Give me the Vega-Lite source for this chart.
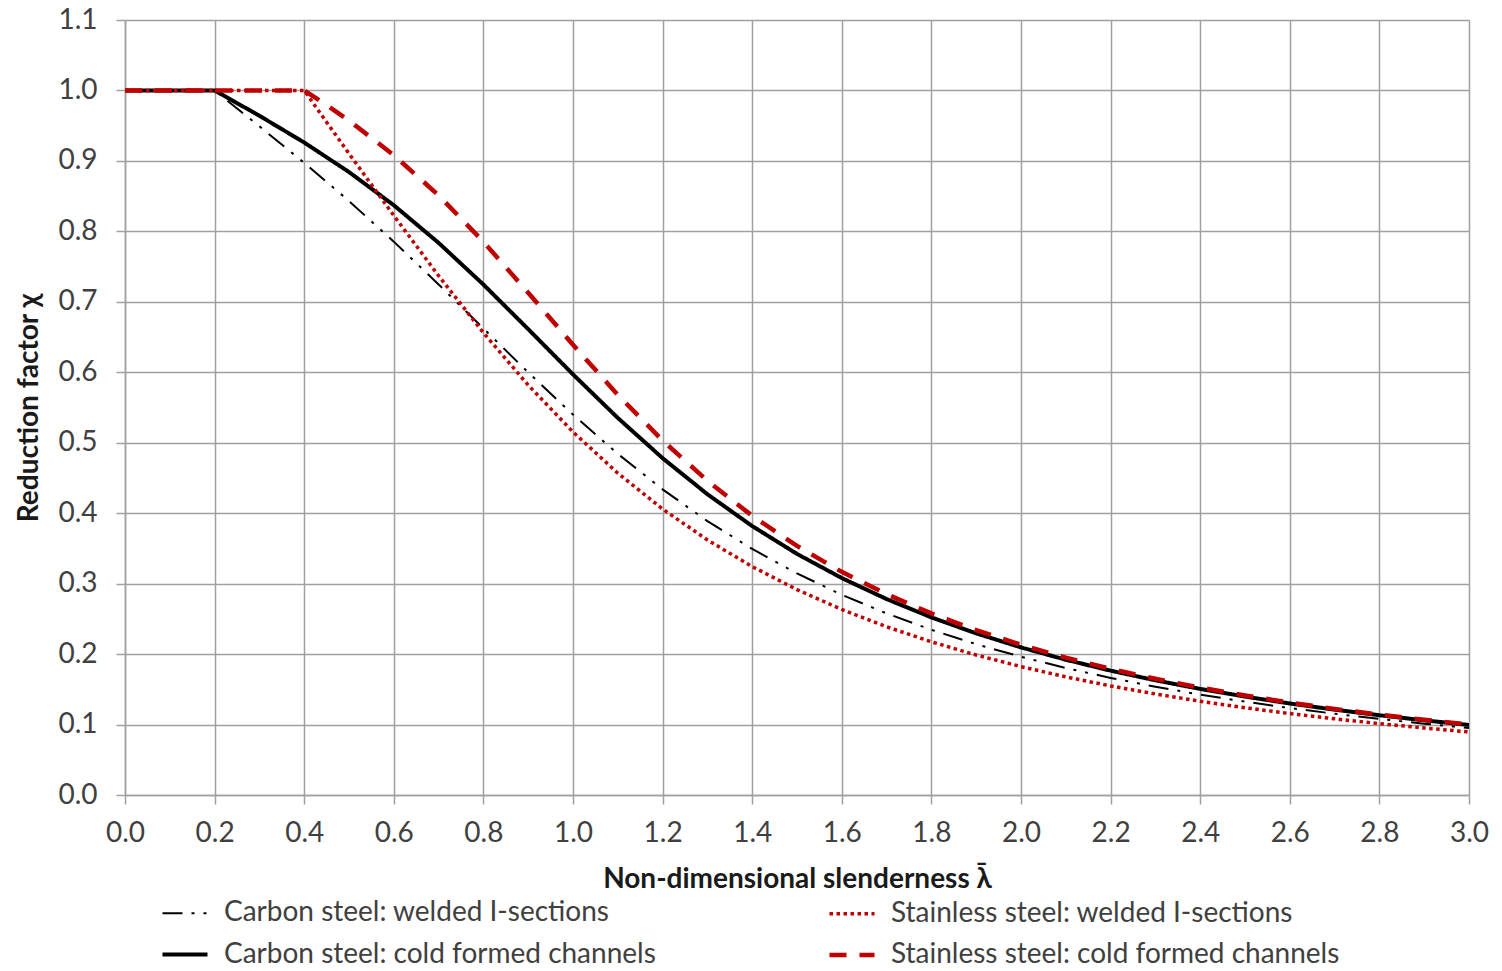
{
  "$schema": "https://vega.github.io/schema/vega-lite/v6.json",
  "autosize": "none",
  "width": 1344,
  "height": 775,
  "padding": {"left": 125, "top": 20, "right": 33, "bottom": 176},
  "background": "white",
  "config": {
    "view": {"stroke": null},
    "axis": {
      "labelFont": "Lato", "labelFontSize": 28, "labelColor": "#404040",
      "titleFont": "Lato", "titleFontSize": 28, "titleFontWeight": "bold", "titleColor": "#1a1a1a",
      "gridColor": "#a0a0a0", "gridWidth": 1.5, "domainColor": "#a0a0a0", "domainWidth": 1.5,
      "tickColor": "#a0a0a0", "tickWidth": 1.5, "tickSize": 9
    }
  },
  "data": {"values": [
    {"series": "Carbon steel: welded I-sections", "x": 0.0, "y": 1.0},
    {"series": "Carbon steel: welded I-sections", "x": 0.1, "y": 1.0},
    {"series": "Carbon steel: welded I-sections", "x": 0.2, "y": 1.0},
    {"series": "Carbon steel: welded I-sections", "x": 0.3, "y": 0.9491},
    {"series": "Carbon steel: welded I-sections", "x": 0.4, "y": 0.8973},
    {"series": "Carbon steel: welded I-sections", "x": 0.5, "y": 0.8430},
    {"series": "Carbon steel: welded I-sections", "x": 0.6, "y": 0.7854},
    {"series": "Carbon steel: welded I-sections", "x": 0.7, "y": 0.7247},
    {"series": "Carbon steel: welded I-sections", "x": 0.8, "y": 0.6622},
    {"series": "Carbon steel: welded I-sections", "x": 0.9, "y": 0.5998},
    {"series": "Carbon steel: welded I-sections", "x": 1.0, "y": 0.5399},
    {"series": "Carbon steel: welded I-sections", "x": 1.1, "y": 0.4842},
    {"series": "Carbon steel: welded I-sections", "x": 1.2, "y": 0.4338},
    {"series": "Carbon steel: welded I-sections", "x": 1.3, "y": 0.3888},
    {"series": "Carbon steel: welded I-sections", "x": 1.4, "y": 0.3492},
    {"series": "Carbon steel: welded I-sections", "x": 1.5, "y": 0.3145},
    {"series": "Carbon steel: welded I-sections", "x": 1.6, "y": 0.2842},
    {"series": "Carbon steel: welded I-sections", "x": 1.7, "y": 0.2577},
    {"series": "Carbon steel: welded I-sections", "x": 1.8, "y": 0.2345},
    {"series": "Carbon steel: welded I-sections", "x": 1.9, "y": 0.2141},
    {"series": "Carbon steel: welded I-sections", "x": 2.0, "y": 0.1962},
    {"series": "Carbon steel: welded I-sections", "x": 2.1, "y": 0.1803},
    {"series": "Carbon steel: welded I-sections", "x": 2.2, "y": 0.1662},
    {"series": "Carbon steel: welded I-sections", "x": 2.3, "y": 0.1537},
    {"series": "Carbon steel: welded I-sections", "x": 2.4, "y": 0.1425},
    {"series": "Carbon steel: welded I-sections", "x": 2.5, "y": 0.1325},
    {"series": "Carbon steel: welded I-sections", "x": 2.6, "y": 0.1234},
    {"series": "Carbon steel: welded I-sections", "x": 2.7, "y": 0.1153},
    {"series": "Carbon steel: welded I-sections", "x": 2.8, "y": 0.1079},
    {"series": "Carbon steel: welded I-sections", "x": 2.9, "y": 0.1012},
    {"series": "Carbon steel: welded I-sections", "x": 3.0, "y": 0.0951},
    {"series": "Carbon steel: cold formed channels", "x": 0.0, "y": 1.0},
    {"series": "Carbon steel: cold formed channels", "x": 0.1, "y": 1.0},
    {"series": "Carbon steel: cold formed channels", "x": 0.2, "y": 1.0},
    {"series": "Carbon steel: cold formed channels", "x": 0.3, "y": 0.9641},
    {"series": "Carbon steel: cold formed channels", "x": 0.4, "y": 0.9261},
    {"series": "Carbon steel: cold formed channels", "x": 0.5, "y": 0.8842},
    {"series": "Carbon steel: cold formed channels", "x": 0.6, "y": 0.8371},
    {"series": "Carbon steel: cold formed channels", "x": 0.7, "y": 0.7837},
    {"series": "Carbon steel: cold formed channels", "x": 0.8, "y": 0.7245},
    {"series": "Carbon steel: cold formed channels", "x": 0.9, "y": 0.6612},
    {"series": "Carbon steel: cold formed channels", "x": 1.0, "y": 0.5970},
    {"series": "Carbon steel: cold formed channels", "x": 1.1, "y": 0.5352},
    {"series": "Carbon steel: cold formed channels", "x": 1.2, "y": 0.4781},
    {"series": "Carbon steel: cold formed channels", "x": 1.3, "y": 0.4269},
    {"series": "Carbon steel: cold formed channels", "x": 1.4, "y": 0.3817},
    {"series": "Carbon steel: cold formed channels", "x": 1.5, "y": 0.3422},
    {"series": "Carbon steel: cold formed channels", "x": 1.6, "y": 0.3079},
    {"series": "Carbon steel: cold formed channels", "x": 1.7, "y": 0.2781},
    {"series": "Carbon steel: cold formed channels", "x": 1.8, "y": 0.2521},
    {"series": "Carbon steel: cold formed channels", "x": 1.9, "y": 0.2294},
    {"series": "Carbon steel: cold formed channels", "x": 2.0, "y": 0.2095},
    {"series": "Carbon steel: cold formed channels", "x": 2.1, "y": 0.1920},
    {"series": "Carbon steel: cold formed channels", "x": 2.2, "y": 0.1765},
    {"series": "Carbon steel: cold formed channels", "x": 2.3, "y": 0.1628},
    {"series": "Carbon steel: cold formed channels", "x": 2.4, "y": 0.1506},
    {"series": "Carbon steel: cold formed channels", "x": 2.5, "y": 0.1397},
    {"series": "Carbon steel: cold formed channels", "x": 2.6, "y": 0.1299},
    {"series": "Carbon steel: cold formed channels", "x": 2.7, "y": 0.1211},
    {"series": "Carbon steel: cold formed channels", "x": 2.8, "y": 0.1132},
    {"series": "Carbon steel: cold formed channels", "x": 2.9, "y": 0.1060},
    {"series": "Carbon steel: cold formed channels", "x": 3.0, "y": 0.0994},
    {"series": "Stainless steel: welded I-sections", "x": 0.0, "y": 1.0},
    {"series": "Stainless steel: welded I-sections", "x": 0.1, "y": 1.0},
    {"series": "Stainless steel: welded I-sections", "x": 0.2, "y": 1.0},
    {"series": "Stainless steel: welded I-sections", "x": 0.3, "y": 1.0},
    {"series": "Stainless steel: welded I-sections", "x": 0.4, "y": 1.0},
    {"series": "Stainless steel: welded I-sections", "x": 0.45, "y": 0.9550},
    {"series": "Stainless steel: welded I-sections", "x": 0.5, "y": 0.9104},
    {"series": "Stainless steel: welded I-sections", "x": 0.6, "y": 0.8224},
    {"series": "Stainless steel: welded I-sections", "x": 0.7, "y": 0.7370},
    {"series": "Stainless steel: welded I-sections", "x": 0.8, "y": 0.6561},
    {"series": "Stainless steel: welded I-sections", "x": 0.9, "y": 0.5818},
    {"series": "Stainless steel: welded I-sections", "x": 1.0, "y": 0.5153},
    {"series": "Stainless steel: welded I-sections", "x": 1.1, "y": 0.4568},
    {"series": "Stainless steel: welded I-sections", "x": 1.2, "y": 0.4059},
    {"series": "Stainless steel: welded I-sections", "x": 1.3, "y": 0.3620},
    {"series": "Stainless steel: welded I-sections", "x": 1.4, "y": 0.3242},
    {"series": "Stainless steel: welded I-sections", "x": 1.5, "y": 0.2915},
    {"series": "Stainless steel: welded I-sections", "x": 1.6, "y": 0.2633},
    {"series": "Stainless steel: welded I-sections", "x": 1.7, "y": 0.2388},
    {"series": "Stainless steel: welded I-sections", "x": 1.8, "y": 0.2174},
    {"series": "Stainless steel: welded I-sections", "x": 1.9, "y": 0.1987},
    {"series": "Stainless steel: welded I-sections", "x": 2.0, "y": 0.1822},
    {"series": "Stainless steel: welded I-sections", "x": 2.1, "y": 0.1677},
    {"series": "Stainless steel: welded I-sections", "x": 2.2, "y": 0.1548},
    {"series": "Stainless steel: welded I-sections", "x": 2.3, "y": 0.1434},
    {"series": "Stainless steel: welded I-sections", "x": 2.4, "y": 0.1331},
    {"series": "Stainless steel: welded I-sections", "x": 2.5, "y": 0.1239},
    {"series": "Stainless steel: welded I-sections", "x": 2.6, "y": 0.1156},
    {"series": "Stainless steel: welded I-sections", "x": 2.7, "y": 0.1081},
    {"series": "Stainless steel: welded I-sections", "x": 2.8, "y": 0.1013},
    {"series": "Stainless steel: welded I-sections", "x": 2.9, "y": 0.0951},
    {"series": "Stainless steel: welded I-sections", "x": 3.0, "y": 0.0895},
    {"series": "Stainless steel: cold formed channels", "x": 0.0, "y": 1.0},
    {"series": "Stainless steel: cold formed channels", "x": 0.1, "y": 1.0},
    {"series": "Stainless steel: cold formed channels", "x": 0.2, "y": 1.0},
    {"series": "Stainless steel: cold formed channels", "x": 0.3, "y": 1.0},
    {"series": "Stainless steel: cold formed channels", "x": 0.4, "y": 1.0},
    {"series": "Stainless steel: cold formed channels", "x": 0.45, "y": 0.9792},
    {"series": "Stainless steel: cold formed channels", "x": 0.5, "y": 0.9572},
    {"series": "Stainless steel: cold formed channels", "x": 0.6, "y": 0.9082},
    {"series": "Stainless steel: cold formed channels", "x": 0.7, "y": 0.8511},
    {"series": "Stainless steel: cold formed channels", "x": 0.8, "y": 0.7853},
    {"series": "Stainless steel: cold formed channels", "x": 0.9, "y": 0.7130},
    {"series": "Stainless steel: cold formed channels", "x": 1.0, "y": 0.6390},
    {"series": "Stainless steel: cold formed channels", "x": 1.1, "y": 0.5679},
    {"series": "Stainless steel: cold formed channels", "x": 1.2, "y": 0.5032},
    {"series": "Stainless steel: cold formed channels", "x": 1.3, "y": 0.4460},
    {"series": "Stainless steel: cold formed channels", "x": 1.4, "y": 0.3963},
    {"series": "Stainless steel: cold formed channels", "x": 1.5, "y": 0.3535},
    {"series": "Stainless steel: cold formed channels", "x": 1.6, "y": 0.3167},
    {"series": "Stainless steel: cold formed channels", "x": 1.7, "y": 0.2850},
    {"series": "Stainless steel: cold formed channels", "x": 1.8, "y": 0.2577},
    {"series": "Stainless steel: cold formed channels", "x": 1.9, "y": 0.2339},
    {"series": "Stainless steel: cold formed channels", "x": 2.0, "y": 0.2132},
    {"series": "Stainless steel: cold formed channels", "x": 2.1, "y": 0.1950},
    {"series": "Stainless steel: cold formed channels", "x": 2.2, "y": 0.1790},
    {"series": "Stainless steel: cold formed channels", "x": 2.3, "y": 0.1649},
    {"series": "Stainless steel: cold formed channels", "x": 2.4, "y": 0.1524},
    {"series": "Stainless steel: cold formed channels", "x": 2.5, "y": 0.1412},
    {"series": "Stainless steel: cold formed channels", "x": 2.6, "y": 0.1312},
    {"series": "Stainless steel: cold formed channels", "x": 2.7, "y": 0.1222},
    {"series": "Stainless steel: cold formed channels", "x": 2.8, "y": 0.1141},
    {"series": "Stainless steel: cold formed channels", "x": 2.9, "y": 0.1068},
    {"series": "Stainless steel: cold formed channels", "x": 3.0, "y": 0.1002}
  ]},
  "encoding": {
    "x": {"field": "x", "type": "quantitative",
      "scale": {"domain": [0, 3], "nice": false, "zero": false},
      "axis": {"title": "Non-dimensional slenderness \u03bb\u0304", "values": [0,0.2,0.4,0.6,0.8,1.0,1.2,1.4,1.6,1.8,2.0,2.2,2.4,2.6,2.8,3.0], "format": ".1f", "labelPadding": 15, "titlePadding": 18, "labelFlush": false, "labelOverlap": false}},
    "y": {"field": "y", "type": "quantitative",
      "scale": {"domain": [0, 1.1], "nice": false},
      "axis": {"title": "Reduction factor \u03c7", "values": [0,0.1,0.2,0.3,0.4,0.5,0.6,0.7,0.8,0.9,1.0,1.1], "format": ".1f", "labelPadding": 19, "titlePadding": 14, "labelFlush": false, "labelOverlap": false}},
    "color": {"field": "series", "type": "nominal",
      "scale": {"domain": ["Carbon steel: welded I-sections", "Carbon steel: cold formed channels", "Stainless steel: welded I-sections", "Stainless steel: cold formed channels"], "range": ["#000000", "#000000", "#C00000", "#C00000"]},
      "legend": {"orient": "none", "legendX": 35, "legendY": 869, "columns": 2, "columnPadding": 164, "rowPadding": 2, "title": null, "symbolType": "stroke", "symbolSize": 2025, "labelFont": "Lato", "labelFontSize": 28, "labelColor": "#404040", "labelOffset": 14, "labelLimit": 700}},
    "strokeDash": {"field": "series", "type": "nominal",
      "scale": {"domain": ["Carbon steel: welded I-sections", "Carbon steel: cold formed channels", "Stainless steel: welded I-sections", "Stainless steel: cold formed channels"], "range": [[20, 9, 3, 9, 3, 9], [1, 0], [3.5, 3.5], [17, 13]]},
      "legend": {"orient": "none", "legendX": 35, "legendY": 869, "columns": 2, "columnPadding": 164, "rowPadding": 2, "title": null, "symbolType": "stroke", "symbolSize": 2025, "labelFont": "Lato", "labelFontSize": 28, "labelColor": "#404040", "labelOffset": 14, "labelLimit": 700}},
    "strokeWidth": {"field": "series", "type": "nominal",
      "scale": {"type": "ordinal", "domain": ["Carbon steel: welded I-sections", "Carbon steel: cold formed channels", "Stainless steel: welded I-sections", "Stainless steel: cold formed channels"], "range": [2, 4, 3.5, 4.5]},
      "legend": {"orient": "none", "legendX": 35, "legendY": 869, "columns": 2, "columnPadding": 164, "rowPadding": 2, "title": null, "symbolType": "stroke", "symbolSize": 2025, "labelFont": "Lato", "labelFontSize": 28, "labelColor": "#404040", "labelOffset": 14, "labelLimit": 700}}
  },
  "layer": [
    {"transform": [{"filter": "datum.series === 'Carbon steel: welded I-sections'"}], "mark": {"type": "line", "clip": true}},
    {"transform": [{"filter": "datum.series === 'Carbon steel: cold formed channels'"}], "mark": {"type": "line", "clip": true}},
    {"transform": [{"filter": "datum.series === 'Stainless steel: welded I-sections'"}], "mark": {"type": "line", "clip": true}},
    {"transform": [{"filter": "datum.series === 'Stainless steel: cold formed channels'"}], "mark": {"type": "line", "clip": true}}
  ]
}
